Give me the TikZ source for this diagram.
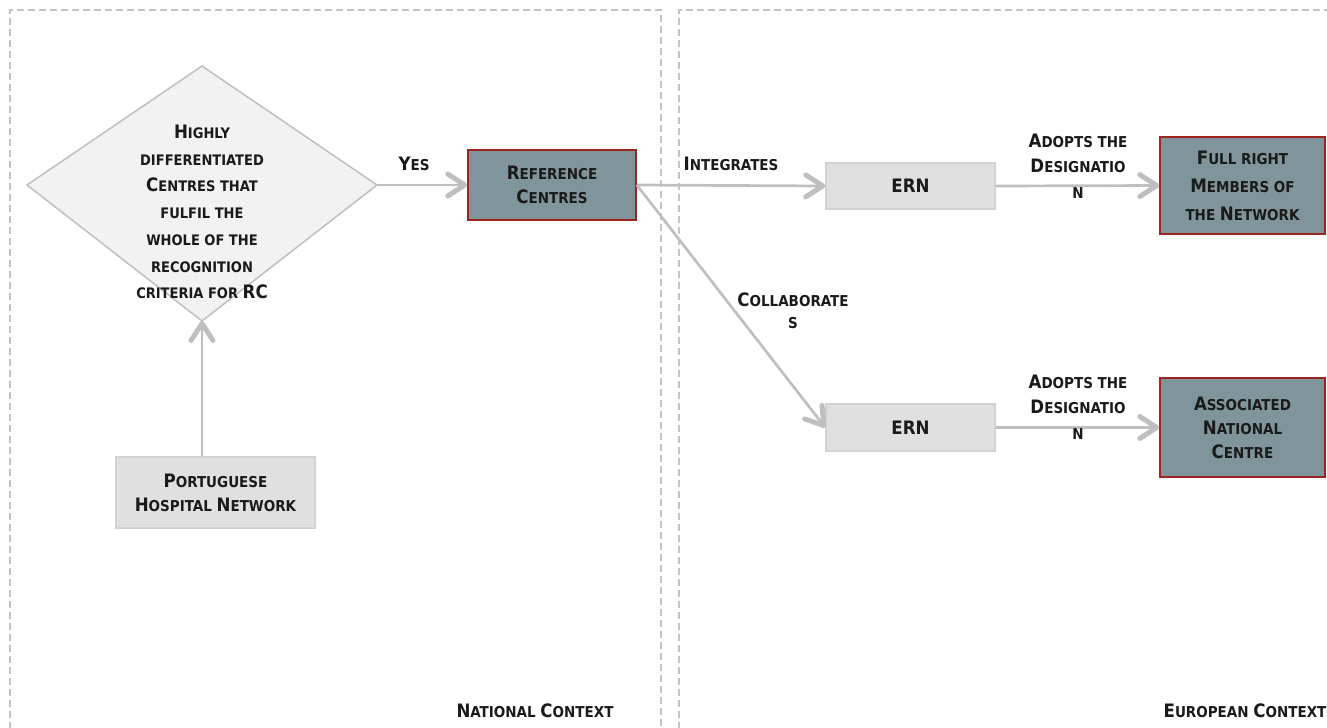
\documentclass[tikz,border=0pt]{standalone}
\usepackage{fontspec}
\setmainfont{DejaVuSansCondensed}[Extension=.ttf, BoldFont=DejaVuSansCondensed-Bold]
\usetikzlibrary{arrows.meta}
\definecolor{lineg}{HTML}{BFBFBF}
\definecolor{dashg}{HTML}{C4C4C4}
\definecolor{boxg}{HTML}{E0E0E0}
\definecolor{boxgb}{HTML}{D2D2D2}
\definecolor{diafill}{HTML}{F2F2F2}
\definecolor{slate}{HTML}{7F959B}
\definecolor{darkred}{HTML}{9E2420}
\definecolor{ink}{HTML}{1A1A1A}
% capital letter of the small-caps style
\newcommand\bg[1]{{\fontsize{18.5bp}{18.5bp}\selectfont #1}}
\tikzset{
  lbl/.style={text=ink, font=\bfseries\fontsize{15bp}{24bp}\selectfont, align=center, inner sep=0pt},
  graybox/.style={draw=boxgb, fill=boxg, line width=1.5bp, lbl},
  redbox/.style={draw=darkred, fill=slate, line width=1.5bp, lbl},
  flow/.style={draw=lineg, line width=2.7bp,
    -{Straight Barb[length=17bp, width=22bp, line width=5bp, round]}},
  panel/.style={draw=dashg, line width=1.2bp, dash pattern=on 7bp off 4bp},
}
\begin{document}
\begin{tikzpicture}[x=1bp, y=-1bp]
\useasboundingbox (0,0) rectangle (1327,727);

% context panels
\draw[panel] (10,740) -- (10,10) -- (661,10) -- (661,740);
\draw[panel] (679,740) -- (679,10) -- (1340,10);

% decision diamond
\coordinate (dt) at (202,66);
\coordinate (dl) at (27,185);
\coordinate (dr) at (377,185);
\coordinate (db) at (202,321);
\draw[draw=lineg, fill=diafill, line width=1.5bp] (dt) -- (dr) -- (db) -- (dl) -- cycle;
\node[lbl, font=\bfseries\fontsize{14.5bp}{26.7bp}\selectfont] (dtext) at (202,212)
  {\bg{H}IGHLY\\DIFFERENTIATED\\\bg{C}ENTRES THAT\\FULFIL THE\\WHOLE OF THE\\RECOGNITION\\CRITERIA FOR \bg{RC}};

% boxes
\node[graybox, minimum width=199bp, minimum height=71bp] (phn) at (215.5,492.5)
  {\bg{P}ORTUGUESE\\\bg{H}OSPITAL \bg{N}ETWORK};
\node[redbox, minimum width=168bp, minimum height=70bp] (rc) at (552,185)
  {\bg{R}EFERENCE\\\bg{C}ENTRES};
\node[graybox, minimum width=169bp, minimum height=46bp] (ern1) at (910.5,186) {\bg{ERN}};
\node[graybox, minimum width=169bp, minimum height=47bp] (ern2) at (910.5,427.5) {\bg{ERN}};
\node[redbox, minimum width=165bp, minimum height=97bp, font=\bfseries\fontsize{15bp}{28bp}\selectfont] (full) at (1242.5,185.5)
  {\bg{F}ULL RIGHT\\\bg{M}EMBERS OF\\THE \bg{N}ETWORK};
\node[redbox, minimum width=165bp, minimum height=99bp] (assoc) at (1242.5,427.5)
  {\bg{A}SSOCIATED\\\bg{N}ATIONAL\\\bg{C}ENTRE};

% connectors
\draw[flow] (db |- phn.north) -- (db);
\draw[flow] (dr) -- (rc.west);
\draw[flow] (rc.east) -- (ern1.west);
\draw[flow] (rc.east) -- (ern2.west);
\draw[flow] (ern1.east) -- (full.west);
\draw[flow] (ern2.east) -- (assoc.west);

% connector labels
\node[lbl] (yes) at (414,164) {\bg{Y}ES};
\node[lbl] (integ) at (731,164) {\bg{I}NTEGRATES};
\node[lbl, font=\bfseries\fontsize{15bp}{22bp}\selectfont] (collab) at (793,311) {\bg{C}OLLABORATE\\S};
\node[lbl, font=\bfseries\fontsize{15bp}{25.5bp}\selectfont] (adopt1) at (1078,166) {\bg{A}DOPTS THE\\\bg{D}ESIGNATIO\\N};
\node[lbl, font=\bfseries\fontsize{15bp}{25.5bp}\selectfont] (adopt2) at (1078,407) {\bg{A}DOPTS THE\\\bg{D}ESIGNATIO\\N};

% panel titles
\node[lbl] (natctx) at (535,711) {\bg{N}ATIONAL \bg{C}ONTEXT};
\node[lbl] (eurctx) at (1245,711) {\bg{E}UROPEAN \bg{C}ONTEXT};
\end{tikzpicture}
\end{document}
